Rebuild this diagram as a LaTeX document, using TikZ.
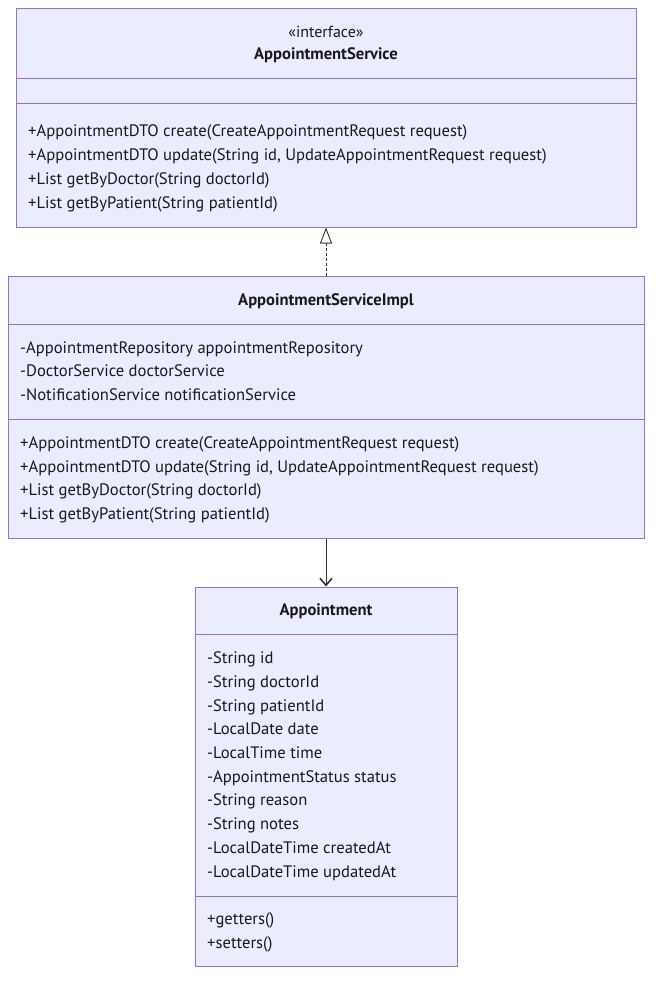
\documentclass[tikz,border=0pt]{standalone}
\usepackage{fontspec}
\setmainfont{PT Sans}
\usetikzlibrary{arrows.meta}
\definecolor{umlfill}{HTML}{ECECFF}
\definecolor{umlline}{HTML}{9370DB}
\definecolor{linkgray}{HTML}{333333}
\begin{document}
\begin{tikzpicture}[x=1pt, y=-1pt,
  umlbox/.style={draw=umlline, fill=umlfill, line width=1pt, inner sep=0pt},
  sep/.style={draw=umlline, line width=1pt},
  txt/.style={anchor=base west, inner sep=0pt, font=\fontsize{16.6}{19}\selectfont, text=black!90},
  title/.style={anchor=base, inner sep=0pt, font=\fontsize{16.6}{19}\selectfont\bfseries, text=black!90},
  stereo/.style={anchor=base, inner sep=0pt, font=\fontsize{16}{19}\selectfont, text=black!90},
  link/.style={draw=linkgray, line width=0.9pt}]
\useasboundingbox (0,0) rectangle (660,986);
% Interface AppointmentService
\node [umlbox, minimum width=620pt, minimum height=219pt] (svc) at (326,117.5) {};
\draw [sep] (svc.west |- 0,78) -- (svc.east |- 0,78);
\draw [sep] (svc.west |- 0,103) -- (svc.east |- 0,103);
\node [stereo] (svcstereo) at (326,37) {«interface»};
\node [title] (svcname) at (326,59) {AppointmentService};
\node [txt] (svcop1) at (28,136) {+AppointmentDTO create(CreateAppointmentRequest request)};
\node [txt] (svcop2) at (28,160) {+AppointmentDTO update(String id, UpdateAppointmentRequest request)};
\node [txt] (svcop3) at (28,184) {+List getByDoctor(String doctorId)};
\node [txt] (svcop4) at (28,208) {+List getByPatient(String patientId)};
% Class AppointmentServiceImpl
\node [umlbox, minimum width=636pt, minimum height=262pt] (impl) at (326,407) {};
\draw [sep] (impl.west |- 0,324) -- (impl.east |- 0,324);
\draw [sep] (impl.west |- 0,419) -- (impl.east |- 0,419);
\node [title] (implname) at (326,305) {AppointmentServiceImpl};
\node [txt] (implf1) at (20,353) {-AppointmentRepository appointmentRepository};
\node [txt] (implf2) at (20,376) {-DoctorService doctorService};
\node [txt] (implf3) at (20,400) {-NotificationService notificationService};
\node [txt] (implop1) at (20,448) {+AppointmentDTO create(CreateAppointmentRequest request)};
\node [txt] (implop2) at (20,472) {+AppointmentDTO update(String id, UpdateAppointmentRequest request)};
\node [txt] (implop3) at (20,495) {+List getByDoctor(String doctorId)};
\node [txt] (implop4) at (20,519) {+List getByPatient(String patientId)};
% Class Appointment
\node [umlbox, minimum width=262pt, minimum height=379pt] (appt) at (326,776.5) {};
\draw [sep] (appt.west |- 0,634) -- (appt.east |- 0,634);
\draw [sep] (appt.west |- 0,896) -- (appt.east |- 0,896);
\node [title] (apptname) at (326,615) {Appointment};
\node [txt] (apptf1) at (207,663) {-String id};
\node [txt] (apptf2) at (207,687) {-String doctorId};
\node [txt] (apptf3) at (207,711) {-String patientId};
\node [txt] (apptf4) at (207,734) {-LocalDate date};
\node [txt] (apptf5) at (207,758) {-LocalTime time};
\node [txt] (apptf6) at (207,782) {-AppointmentStatus status};
\node [txt] (apptf7) at (207,805) {-String reason};
\node [txt] (apptf8) at (207,829) {-String notes};
\node [txt] (apptf9) at (207,853) {-LocalDateTime createdAt};
\node [txt] (apptf10) at (207,877) {-LocalDateTime updatedAt};
\node [txt] (apptop1) at (207,924) {+getters()};
\node [txt] (apptop2) at (207,948) {+setters()};
% Realization and association
\draw [link, dash pattern=on 2.5pt off 2.5pt, -{Triangle[open, length=16pt, width=12pt, fill=white]}] (impl.north) -- (svc.south);
\draw [link, -{Straight Barb[length=7pt, width=12pt, line width=1.6pt]}] (impl.south) -- (appt.north);
\end{tikzpicture}
\end{document}
